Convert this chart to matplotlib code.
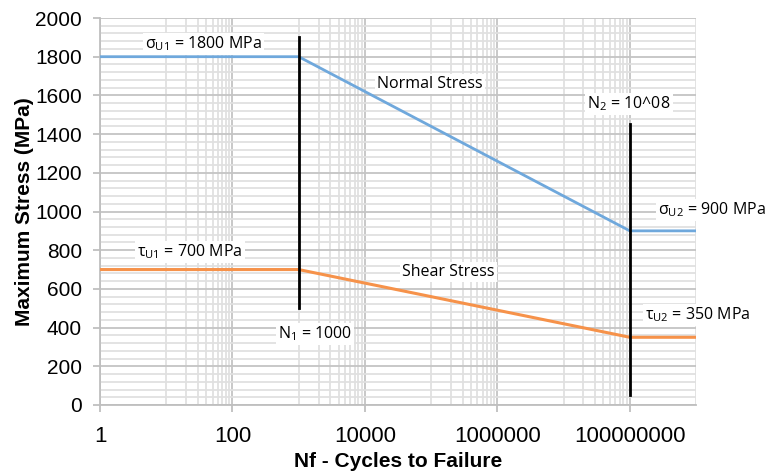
import numpy as np
import matplotlib
matplotlib.use("Agg")
import matplotlib.pyplot as plt
from matplotlib.ticker import FixedLocator, NullFormatter

# Data
cycles = [1, 1000, 1e8, 1e9]
normal_stress = [1800, 1800, 900, 900]
shear_stress = [700, 700, 350, 350]
n1_x, n1_y = 1000, [500, 1900]
n2_x, n2_y = 1e8, [50, 1450]
xticks = [1, 100, 10000, 1000000, 100000000]
xtick_labels = ["1", "100", "10000", "1000000", "100000000"]
yticks = list(range(0, 2001, 200))

plt.rcParams['font.family'] = ['Liberation Sans', 'DejaVu Sans']
plt.rcParams['mathtext.fontset'] = 'custom'
plt.rcParams['mathtext.rm'] = 'Open Sans'

fig = plt.figure(figsize=(7.71, 4.76), dpi=100)
ax = fig.add_axes([100/771, 1-405/476, 596/771, 387/476])

blue = '#6fa8dc'
orange = '#f6924a'

ax.plot(cycles, normal_stress, color=blue, lw=2, zorder=4)
ax.plot(cycles, shear_stress, color=orange, lw=2.2, zorder=4)
ax.plot([n1_x, n1_x], n1_y, color='black', lw=2, zorder=5)
ax.plot([n2_x, n2_x], n2_y, color='black', lw=2, zorder=5)

ax.set_xscale('log')
ax.set_xlim(1, 1e9)
ax.set_ylim(0, 2000)
ax.set_xticks(xticks)
ax.set_xticklabels(xtick_labels)
minor_x = [100**k * m for k in range(5) for m in range(10, 100, 10) if 100**k * m <= 1e9]
ax.xaxis.set_minor_locator(FixedLocator(minor_x))
ax.xaxis.set_minor_formatter(NullFormatter())
ax.set_yticks(yticks)
ax.yaxis.set_minor_locator(FixedLocator([v for v in range(0, 2001, 40) if v % 200]))

ax.grid(which='major', color='#c4c4c4', lw=1.3, zorder=0)
ax.grid(which='minor', color='#e0e0e0', lw=1.3, zorder=0)
ax.set_axisbelow(True)

for s in ['top', 'right']:
    ax.spines[s].set_visible(False)
for s in ['left', 'bottom']:
    ax.spines[s].set_color('#bfbfbf')
    ax.spines[s].set_linewidth(1.3)

ax.tick_params(axis='x', which='major', length=5, color='#bfbfbf', width=1.3,
               labelsize=16, pad=10)
ax.tick_params(axis='y', which='major', length=5, color='#bfbfbf', width=1.3,
               labelsize=15, pad=8)
ax.tick_params(which='minor', length=0)

ax.set_xlabel('Nf - Cycles to Failure', fontsize=15, fontweight='bold', labelpad=4)
ax.set_ylabel('Maximum Stress (MPa)', fontsize=15, fontweight='bold', labelpad=1)

fs = 11.5
box = dict(facecolor='white', edgecolor='none', pad=1.5)
def lab(xpix, ypix, s):
    fig.text(xpix/771, 1-ypix/476, s, fontsize=fs, family=['Open Sans', 'DejaVu Sans'],
             ha='left', va='center', bbox=box, zorder=10)

lab(145, 44, 'σ$_\\mathregular{U1}$ = 1800 MPa')
lab(377, 84, 'Normal Stress')
lab(587, 104, 'N$_\\mathregular{2}$ = 10^08')
lab(658, 210, 'σ$_\\mathregular{U2}$ = 900 MPa')
lab(137, 252, 'τ$_\\mathregular{U1}$ = 700 MPa')
lab(402, 272, 'Shear Stress')
lab(278, 334, 'N$_\\mathregular{1}$ = 1000')
lab(645, 315, 'τ$_\\mathregular{U2}$ = 350 MPa')

fig.savefig('out.png', dpi=100)
